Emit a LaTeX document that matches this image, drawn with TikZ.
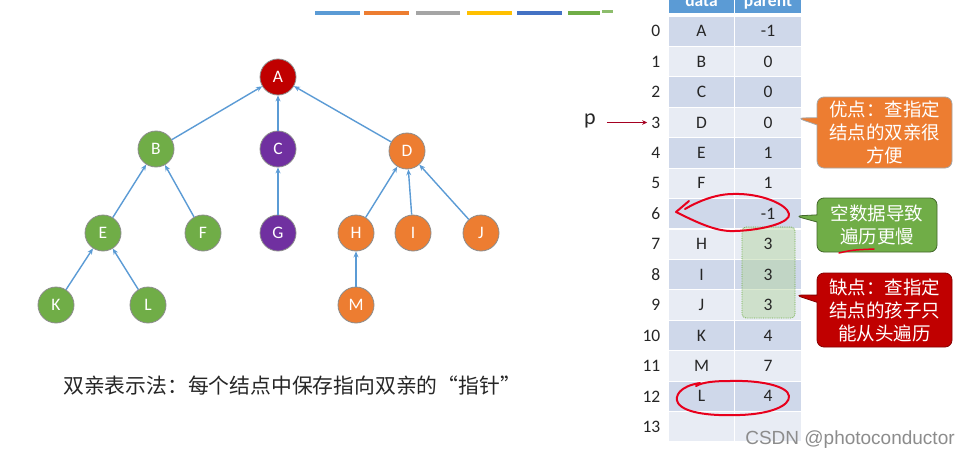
\documentclass[tikz,border=0pt]{standalone}
\usepackage{fontspec}
\setmainfont{Carlito}
\newfontfamily\cjk{Noto Sans CJK SC}
\newfontfamily\wmfont{Liberation Sans}
\usetikzlibrary{arrows.meta,shapes.callouts}
\definecolor{ablue}{HTML}{5B9BD5}
\definecolor{aorange}{HTML}{ED7D31}
\definecolor{agray}{HTML}{A5A5A5}
\definecolor{ayellow}{HTML}{FFC000}
\definecolor{adblue}{HTML}{4472C4}
\definecolor{agreen}{HTML}{70AD47}
\definecolor{apurple}{HTML}{7030A0}
\definecolor{ared}{HTML}{C00000}
\definecolor{rowdark}{HTML}{CFD8EA}
\definecolor{rowlight}{HTML}{E8ECF4}
\definecolor{pen}{HTML}{E8001C}
\definecolor{parrow}{HTML}{A50021}
\begin{document}
\begin{tikzpicture}[x=1pt,y=-1pt,
  tnode/.style={circle,minimum size=36pt,inner sep=0pt,draw=black!45,line width=0.8pt,
    text=white,font=\fontsize{17.5}{20}\selectfont},
  gnode/.style={tnode,fill=agreen},
  onode/.style={tnode,fill=aorange},
  pnode/.style={tnode,fill=apurple},
  rnode/.style={tnode,fill=ared},
  edge/.style={draw=ablue,line width=1.4pt,-{Stealth[length=6pt,width=5pt]}},
  cell/.style={rectangle,minimum width=66.5pt,minimum height=30.43pt,inner sep=0pt,
    draw=white,line width=1.2pt},
  celltext/.style={inner sep=0pt,text=black!85,font=\fontsize{17.5}{20}\selectfont},
  idx/.style={anchor=east,inner sep=0pt,text=black!85,font=\fontsize{17.5}{20}\selectfont},
  hdrcell/.style={rectangle,minimum width=66.5pt,minimum height=34pt,inner sep=0pt,
    draw=white,line width=1.2pt,fill=ablue},
  hdrtext/.style={anchor=base,inner sep=0pt,text=white,font=\bfseries\fontsize{17.5}{20}\selectfont},
  callout/.style={rectangle callout,rounded corners=7pt,align=center,text=white,
    font=\cjk\fontsize{18.5}{23}\selectfont,line width=0.8pt,inner sep=2pt},
  bar/.style={line width=3.5pt},
  pen/.style={draw=pen,line width=2pt,line cap=round,line join=round}
]
\useasboundingbox (0,0) rectangle (969,460);
\clip (0,0) rectangle (969,460);
\fill[white] (0,0) rectangle (969,460);

% top colour bars
\draw[bar,ablue]   (315,13) -- (360,13);
\draw[bar,aorange] (364,13) -- (409,13);
\draw[bar,agray]   (416,13) -- (460,13);
\draw[bar,ayellow] (467,13) -- (512,13);
\draw[bar,adblue]  (517,13) -- (562,13);
\draw[bar,agreen]  (568,13) -- (600,13);
\draw[line width=2.5pt,agreen!80] (602,11.5) -- (613,11.5);

% tree
\node[rnode] (A) at (278,77) {A};
\node[gnode] (B) at (156,149) {B};
\node[pnode] (C) at (278,149) {C};
\node[onode] (D) at (407,151) {D};
\node[gnode] (E) at (103,233) {E};
\node[gnode] (F) at (203,233) {F};
\node[pnode] (G) at (278,233) {G};
\node[onode] (H) at (356,233) {H};
\node[onode] (I) at (413,233) {I};
\node[onode] (J) at (481,233) {J};
\node[gnode] (K) at (56,305) {K};
\node[gnode] (L) at (148,305) {L};
\node[onode] (M) at (356,305) {M};
\draw[edge] (B) -- (A);
\draw[edge] (C) -- (A);
\draw[edge] (D) -- (A);
\draw[edge] (E) -- (B);
\draw[edge] (F) -- (B);
\draw[edge] (G) -- (C);
\draw[edge] (H) -- (D);
\draw[edge] (I) -- (D);
\draw[edge] (J) -- (D);
\draw[edge] (K) -- (E);
\draw[edge] (L) -- (E);
\draw[edge] (M) -- (H);

\node[font=\cjk\fontsize{20.8}{24}\selectfont,text=black!85] (cap) at (292,386)
  {双亲表示法：每个结点中保存指向双亲的“指针”};

% table header
\node[hdrcell] (hd) at (701.5,-3) {};
\node[hdrcell] (hp) at (768,-3) {};
\node[hdrtext] (hdt) at (701.5,7) {data};
\node[hdrtext] (hpt) at (768,7) {parent};

% table cells
\foreach \i in {0,...,13}{
  \pgfmathsetmacro\yc{31.2+30.43*\i}
  \ifodd\i \def\rowcol{rowlight}\else\def\rowcol{rowdark}\fi
  \node[cell,fill=\rowcol] (cd\i) at (701.5,\yc) {};
  \node[cell,fill=\rowcol] (cp\i) at (768,\yc) {};
}

% green highlight
\draw[densely dotted,draw=agreen,fill=agreen!55,fill opacity=0.45,rounded corners=4pt,line width=0.8pt]
  (742,227) rectangle (795,318);

% table texts
\foreach \i/\d/\q in {0/A/-1,1/B/0,2/C/0,3/D/0,4/E/1,5/F/1,6//-1,7/H/3,8/I/3,9/J/3,10/K/4,11/M/7,12/L/4,13//}{
  \node[celltext] (d\i) at (cd\i) {\d};
  \node[celltext] (p\i) at (cp\i) {\q};
  \node[idx] (n\i) at (660.5,0 |- cd\i) {\i};
}

% pointer p
\node[inner sep=0pt,font=\fontsize{22}{24}\selectfont,text=black!85] (p) at (590,121) {p};
\draw[draw=parrow,line width=1.2pt,-{Stealth[length=5pt,width=4.5pt]},shorten <=11pt,shorten >=4pt]
  (p.east |- n3) -- (n3.west);

% call-outs
\node[callout,fill=aorange,draw=black!35,minimum width=135pt,minimum height=71pt,
  callout absolute pointer={(797,118)}] (good) at (884.5,132.5)
  {优点：查指定\\结点的双亲很\\方便};
\node[callout,fill=agreen,draw=agreen!60!black,minimum width=120pt,minimum height=54pt,
  callout absolute pointer={(795,216)}] (empty) at (877,225)
  {空数据导致\\遍历更慢};
\node[callout,fill=ared,draw=ared!70!black,minimum width=135pt,minimum height=74pt,
  callout absolute pointer={(795,295)}] (bad) at (884.5,310)
  {缺点：查指定\\结点的孩子只\\能从头遍历};

% hand-drawn pen marks
\draw[pen] (689,201) -- (676,212) .. controls (700,224) and (718,232) .. (735,231)
  .. controls (765,230) and (791,222) .. (789,214) .. controls (787,204) and (760,193) .. (733,194)
  .. controls (715,194) and (697,202) .. (685,209);
\draw[pen] (700,383) .. controls (680,386) and (674,396) .. (678,403)
  .. controls (685,414) and (715,416) .. (740,415) .. controls (770,414) and (790,406) .. (789,396)
  .. controls (788,386) and (760,380) .. (730,381) .. controls (715,381) and (703,382) .. (696,386);
\draw[pen,line width=1.5pt] (839,253) .. controls (852,250) .. (874,249);

% watermark
\node[font=\wmfont\fontsize{19}{22}\selectfont,text=black!45] (wm) at (850,440) {CSDN @photoconductor};
\end{tikzpicture}
\end{document}
